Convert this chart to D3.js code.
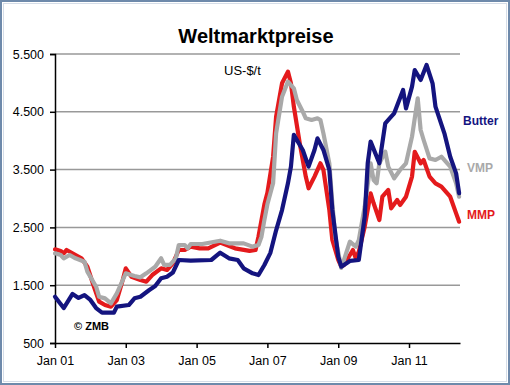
<!DOCTYPE html>
<html>
<head>
<meta charset="utf-8">
<script src="https://cdn.jsdelivr.net/npm/d3@7"></script>
<style>
  body { margin: 0; background: #fff; }
  svg { display: block; font-family: Arial, "Liberation Sans", sans-serif; }
</style>
</head>
<body>
<svg id="chart" width="510" height="385"></svg>
<script>
const WIDTH = 510;
const HEIGHT = 385;
const MARGIN = { top: 54, right: 50, bottom: 42, left: 55 };

// monthly prices, US-$/t
const butterMonths = ["2001-01","2001-04","2001-07","2001-09","2001-11","2002-01","2002-03","2002-05","2002-09","2002-10","2003-02","2003-04","2003-06","2003-09","2003-11","2004-01","2004-03","2004-05","2004-07","2004-11","2005-06","2005-09","2005-12","2006-03","2006-05","2006-08","2006-10","2006-12","2007-02","2007-04","2007-06","2007-08","2007-09","2007-10","2008-01","2008-03","2008-05","2008-06","2008-08","2008-10","2008-11","2009-01","2009-02","2009-05","2009-08","2009-10","2009-11","2009-12","2010-03","2010-05","2010-07","2010-08","2010-11","2010-12","2011-02","2011-03","2011-05","2011-07","2011-09","2011-10","2012-01","2012-03","2012-05","2012-06"];
const butterValues = [1300,1105,1348,1280,1330,1245,1105,1025,1025,1128,1157,1273,1300,1417,1486,1620,1647,1720,1936,1924,1936,2062,1965,1936,1792,1705,1676,1850,2060,2450,2800,3263,3551,4100,3840,3551,3840,4040,3840,3494,2801,1993,1820,1920,1936,2686,3609,3984,3609,4300,4416,4473,4877,4560,4935,5223,5050,5310,4993,4589,4127,3723,3435,3090];

const mmpMonths = ["2001-01","2001-03","2001-04","2001-05","2001-08","2001-10","2001-12","2002-02","2002-04","2002-06","2002-08","2002-10","2002-12","2003-01","2003-03","2003-06","2003-08","2003-10","2004-01","2004-03","2004-05","2004-07","2004-09","2004-11","2005-02","2005-05","2005-09","2006-02","2006-07","2006-09","2006-10","2006-12","2007-01","2007-03","2007-04","2007-06","2007-08","2007-09","2007-10","2007-12","2008-02","2008-03","2008-05","2008-07","2008-08","2008-10","2008-11","2009-01","2009-02","2009-03","2009-06","2009-07","2009-08","2009-10","2009-12","2010-01","2010-03","2010-04","2010-06","2010-07","2010-09","2010-10","2010-12","2011-02","2011-03","2011-05","2011-06","2011-08","2011-10","2011-12","2012-03","2012-05","2012-06"];
const mmpValues = [2121,2092,2051,2109,2022,1965,1820,1503,1215,1157,1128,1244,1590,1792,1647,1590,1561,1676,1792,1763,1879,2109,2109,2167,2138,2138,2236,2138,2095,2109,2339,2900,3100,3723,4416,4993,5195,4993,4589,3955,3379,3177,3379,3609,3494,2801,2282,1936,1820,1850,2109,1965,2080,2512,3090,2917,2628,3031,3147,2830,2974,2887,3031,3379,3809,3609,3666,3379,3263,3206,3031,2743,2599];

const vmpMonths = ["2001-01","2001-03","2001-04","2001-06","2001-08","2001-11","2001-12","2002-03","2002-04","2002-06","2002-08","2002-10","2002-12","2003-01","2003-04","2003-06","2003-08","2003-11","2004-01","2004-02","2004-04","2004-06","2004-07","2004-09","2004-10","2004-11","2005-03","2005-09","2005-12","2006-05","2006-08","2006-10","2006-11","2006-12","2007-01","2007-03","2007-04","2007-06","2007-08","2007-10","2007-11","2008-01","2008-02","2008-04","2008-06","2008-07","2008-08","2008-10","2008-11","2008-12","2009-02","2009-03","2009-05","2009-07","2009-08","2009-10","2009-12","2010-01","2010-02","2010-03","2010-05","2010-06","2010-08","2010-10","2010-12","2011-02","2011-04","2011-05","2011-06","2011-08","2011-10","2011-12","2012-03","2012-05","2012-06"];
const vmpValues = [2051,2022,1965,2022,1965,1907,1734,1474,1301,1272,1186,1359,1590,1705,1659,1636,1705,1820,1965,1850,1850,1965,2195,2195,2138,2213,2213,2270,2224,2224,2167,2195,2339,2628,2900,3263,4127,4762,5022,4906,4704,4502,4387,4358,4387,4358,4127,3609,2917,2339,1800,1936,2253,2167,2282,2858,3609,3320,3263,3609,3809,3551,3349,3494,3609,4070,4733,4185,4012,3694,3666,3723,3551,3263,3031];

const yTicks = [500, 1500, 2500, 3500, 4500, 5500];
const xTickMonths = ["2001-01", "2003-01", "2005-01", "2007-01", "2009-01", "2011-01"];

const parseMonth = d3.timeParse("%Y-%m");
const de = d3.formatLocale({ decimal: ",", thousands: ".", grouping: [3], currency: ["", " €"] });

const series = [
  { name: "MMP", color: "#e41a1c", labelY: 219, months: mmpMonths, values: mmpValues },
  { name: "VMP", color: "#a9a9a9", labelY: 172, months: vmpMonths, values: vmpValues },
  { name: "Butter", color: "#14147f", labelY: 125, months: butterMonths, values: butterValues }
].map(s => ({ ...s, points: s.months.map((m, i) => ({ date: parseMonth(m), value: s.values[i] })) }));

const svg = d3.select("#chart");

// frame
svg.append("rect")
  .attr("x", 1).attr("y", 1)
  .attr("width", WIDTH - 2).attr("height", HEIGHT - 2)
  .attr("fill", "#fff")
  .attr("stroke", "#6e8aab")
  .attr("stroke-width", 2);
svg.append("rect")
  .attr("x", 3.5).attr("y", 3.5)
  .attr("width", WIDTH - 7).attr("height", HEIGHT - 7)
  .attr("fill", "none")
  .attr("stroke", "#d5dde8")
  .attr("stroke-width", 1);

const x = d3.scaleTime()
  .domain([new Date(2001, 0, 1), new Date(2012, 5, 10)])
  .range([MARGIN.left, WIDTH - MARGIN.right]);

const y = d3.scaleLinear()
  .domain([500, 5500])
  .range([HEIGHT - MARGIN.bottom, MARGIN.top]);

// horizontal grid
svg.append("g")
  .selectAll("line")
  .data(yTicks.slice(1))
  .join("line")
  .attr("x1", x.range()[0])
  .attr("x2", x.range()[1])
  .attr("y1", d => y(d))
  .attr("y2", d => y(d))
  .attr("stroke", "#999")
  .attr("stroke-width", 1.5);

// axes
svg.append("g")
  .attr("transform", `translate(${MARGIN.left},0)`)
  .call(d3.axisLeft(y).tickValues(yTicks).tickFormat(de.format(",")).tickSize(5).tickPadding(6))
  .call(g => g.select(".domain").attr("stroke-width", 1.5))
  .call(g => g.selectAll(".tick line").attr("stroke-width", 1.5))
  .call(g => g.selectAll("text").attr("font-size", 12.5).attr("fill", "#000"));

svg.append("g")
  .attr("transform", `translate(0,${HEIGHT - MARGIN.bottom})`)
  .call(d3.axisBottom(x).tickValues(xTickMonths.map(parseMonth)).tickFormat(d3.timeFormat("Jan %y")).tickSizeInner(5).tickSizeOuter(0).tickPadding(8))
  .call(g => g.select(".domain").attr("stroke-width", 1.5))
  .call(g => g.selectAll(".tick line").attr("stroke-width", 1.5))
  .call(g => g.selectAll("text").attr("font-size", 12.5).attr("fill", "#000"));

// lines
const line = d3.line()
  .x(d => x(d.date))
  .y(d => y(d.value));

svg.append("g")
  .selectAll("path")
  .data(series)
  .join("path")
  .attr("d", d => line(d.points))
  .attr("fill", "none")
  .attr("stroke", d => d.color)
  .attr("stroke-width", 4.2)
  .attr("stroke-linejoin", "round")
  .attr("stroke-linecap", "round");

// series labels
svg.append("g")
  .selectAll("text")
  .data(series)
  .join("text")
  .attr("x", d => d.name === "Butter" ? 463 : 467)
  .attr("y", d => d.labelY)
  .attr("fill", d => d.color)
  .attr("font-size", 12)
  .attr("font-weight", "bold")
  .text(d => d.name);

// title and notes
svg.append("text")
  .attr("x", 256)
  .attr("y", 43)
  .attr("text-anchor", "middle")
  .attr("font-size", 20)
  .attr("font-weight", "bold")
  .text("Weltmarktpreise");

svg.append("text")
  .attr("x", 224)
  .attr("y", 75)
  .attr("font-size", 13)
  .text("US-$/t");

svg.append("text")
  .attr("x", 74)
  .attr("y", 330)
  .attr("font-size", 11)
  .attr("font-weight", "bold")
  .text("© ZMB");
</script>
</body>
</html>
